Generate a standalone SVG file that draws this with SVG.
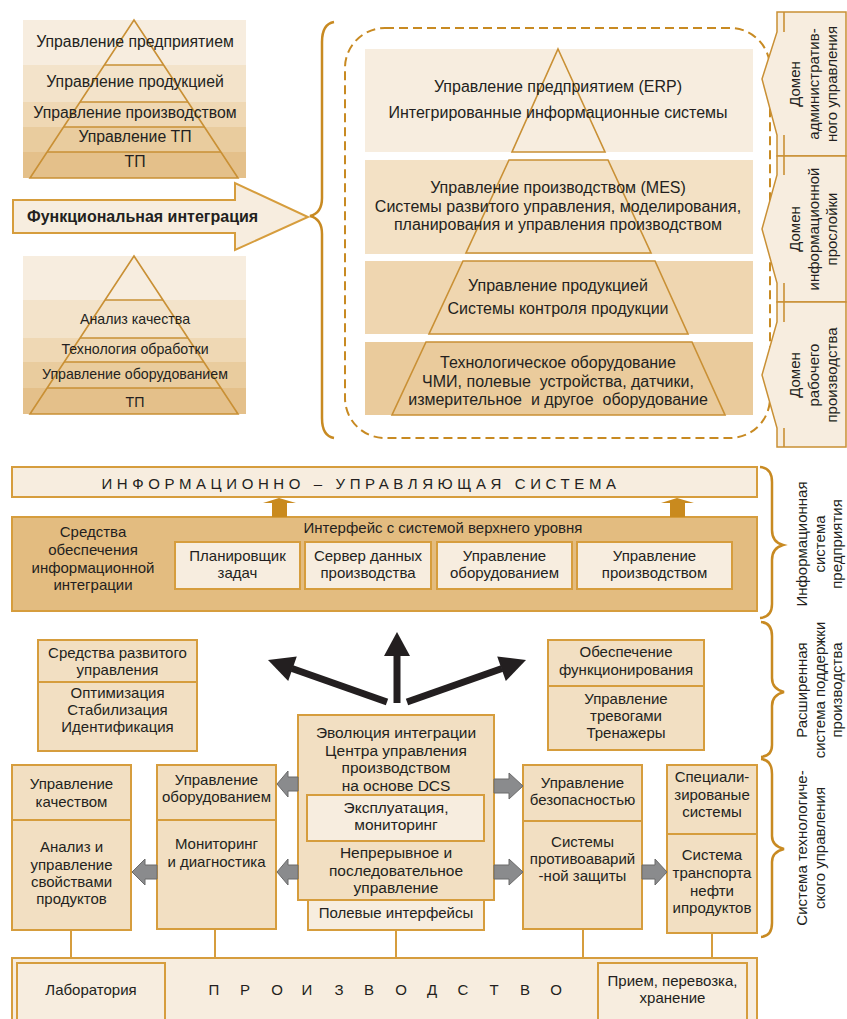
<svg xmlns="http://www.w3.org/2000/svg" width="847" height="1019" viewBox="0 0 847 1019">
<defs>
<style>
.t{font-family:"Liberation Sans",Arial,sans-serif;font-size:15px;fill:#231F20;text-anchor:middle}
.s14{font-size:14.2px}
.s16{font-size:16px}
.s158{font-size:15.8px}
.b{font-weight:bold;text-anchor:start;font-size:16px}
.box{fill:#F2DFC2;stroke:#D69D3D;stroke-width:2}
.lt{fill:#F7EDDF;stroke:#D69D3D;stroke-width:2}
.dk{fill:#E3BC80;stroke:#D69D3D;stroke-width:2}
.pl{fill:none;stroke:#C99035;stroke-width:1.6}
.br{fill:none;stroke:#C88A22;stroke-width:2.5}
.dom{fill:#F7EDDF;stroke:#C99035;stroke-width:1.5}
.ga{fill:#8A8B8D;stroke:#6A6A6A;stroke-width:1}
.vl{stroke:#D69D3D;stroke-width:2;fill:none}
.up{fill:#C98A1E}
</style>
</defs>
<rect width="847" height="1019" fill="#FFFFFF"/>

<g id="pyramid-functional">
<rect x="23" y="20" width="223" height="45" fill="#F7EDDF"/>
<rect x="23" y="65" width="223" height="37" fill="#F3E3CA"/>
<rect x="23" y="102" width="223" height="25" fill="#EFD8B4"/>
<rect x="23" y="127" width="223" height="25" fill="#E9CC9E"/>
<rect x="23" y="152" width="223" height="26" fill="#E4C08A"/>
<polygon class="pl" points="134,20 238,178 30,178"/>
<line class="pl" x1="104.4" y1="65" x2="163.6" y2="65"/>
<line class="pl" x1="80" y1="102" x2="188" y2="102"/>
<line class="pl" x1="63.6" y1="127" x2="204.4" y2="127"/>
<line class="pl" x1="47" y1="152" x2="221" y2="152"/>
<text class="t s158" x="135" y="47">Управление предприятием</text>
<text class="t s158" x="135" y="87">Управление продукцией</text>
<text class="t s158" x="135" y="118">Управление производством</text>
<text class="t s158" x="135" y="142">Управление ТП</text>
<text class="t s158" x="135" y="167">ТП</text>
</g>

<g id="arrow-functional-integration">
<polygon points="13,200 235,200 235,183 308,217 235,250 235,233 13,233" fill="#F7EDDF" stroke="#D69D3D" stroke-width="2"/>
<text class="t b" x="27" y="222">Функциональная интеграция</text>
</g>

<g id="pyramid-quality">
<rect x="23" y="256" width="223" height="44" fill="#F7EDDF"/>
<rect x="23" y="300" width="223" height="38" fill="#F3E3CA"/>
<rect x="23" y="338" width="223" height="24" fill="#EFD8B4"/>
<rect x="23" y="362" width="223" height="26" fill="#E9CC9E"/>
<rect x="23" y="388" width="223" height="26" fill="#E4C08A"/>
<polygon class="pl" points="134,256 238,414 30,414"/>
<line class="pl" x1="105" y1="300" x2="163" y2="300"/>
<line class="pl" x1="80" y1="338" x2="188" y2="338"/>
<line class="pl" x1="64" y1="362" x2="204" y2="362"/>
<line class="pl" x1="47" y1="388" x2="221" y2="388"/>
<text class="t s14" x="135" y="324">Анализ качества</text>
<text class="t s14" x="135" y="354">Технология обработки</text>
<text class="t s14" x="135" y="379">Управление оборудованием</text>
<text class="t s14" x="135" y="407">ТП</text>
</g>

<g id="brace-main">
<path class="br" d="M334,22 Q322,24 322,42 L322,198 Q322,213 310,216 Q322,219 322,234 L322,418 Q322,436 334,438" stroke-width="3"/>
</g>

<g id="domain-frame">
<rect x="345" y="28" width="425" height="410" rx="40" ry="40" fill="none" stroke="#C88A22" stroke-width="2" stroke-dasharray="9,5"/>
</g>

<g id="pyramid-levels">
<rect x="365" y="49" width="388" height="103" fill="#F7EDDF"/>
<rect x="365" y="160" width="388" height="94" fill="#F3E1C5"/>
<rect x="365" y="261" width="388" height="73" fill="#EFD6B0"/>
<rect x="365" y="342" width="388" height="73" fill="#EACB9C"/>
<polygon class="pl" points="558,49 605,152 512,152"/>
<polygon class="pl" points="509,160 608,160 651,253 466,253"/>
<polygon class="pl" points="463,261 655,261 688,334 429,334"/>
<polygon class="pl" points="426,342 692,342 725,415 392,415"/>
<text class="t s16" x="558" y="92">Управление предприятием (ERP)</text>
<text class="t s16" x="558" y="118">Интегрированные информационные системы</text>
<text class="t s16" x="558" y="193">Управление производством (MES)</text>
<text class="t s16" x="558" y="212">Системы развитого управления, моделирования,</text>
<text class="t s16" x="558" y="230">планирования и управления производством</text>
<text class="t s16" x="558" y="291">Управление продукцией</text>
<text class="t s16" x="558" y="314">Системы контроля продукции</text>
<text class="t s16" x="558" y="368">Технологическое оборудование</text>
<text class="t s16" x="558" y="387" xml:space="preserve">ЧМИ, полевые  устройства, датчики,</text>
<text class="t s16" x="558" y="405" xml:space="preserve">измерительное  и другое  оборудование</text>
</g>

<g id="domain-admin">
<polygon class="dom" points="846,12 777,12 777,32 762,79 777,135 777,156 846,156"/>
<line class="pl" x1="784" y1="12" x2="784" y2="32" stroke-width="1.5"/>
<line class="pl" x1="784" y1="135" x2="784" y2="156" stroke-width="1.5"/>
<text class="t" transform="translate(0,84) rotate(-90)"><tspan x="0" y="800">Домен</tspan><tspan x="0" y="819">административ-</tspan><tspan x="0" y="837">ного управления</tspan></text>
</g>

<g id="domain-info">
<polygon class="dom" points="846,156 777,156 777,175 762,229 777,283 777,302 846,302"/>
<line class="pl" x1="784" y1="156" x2="784" y2="175" stroke-width="1.5"/>
<line class="pl" x1="784" y1="283" x2="784" y2="302" stroke-width="1.5"/>
<text class="t" transform="translate(0,229) rotate(-90)"><tspan x="0" y="800">Домен</tspan><tspan x="0" y="819">информационной</tspan><tspan x="0" y="837">прослойки</tspan></text>
</g>

<g id="domain-work">
<polygon class="dom" points="846,302 777,302 777,322 762,375 777,428 777,447 846,447"/>
<line class="pl" x1="784" y1="302" x2="784" y2="322" stroke-width="1.5"/>
<line class="pl" x1="784" y1="428" x2="784" y2="447" stroke-width="1.5"/>
<text class="t" transform="translate(0,375) rotate(-90)"><tspan x="0" y="800">Домен</tspan><tspan x="0" y="819">рабочего</tspan><tspan x="0" y="837">производства</tspan></text>
</g>

<g id="ius">
<rect class="lt" x="12" y="467" width="745" height="30"/>
<text class="t" x="361" y="489" letter-spacing="4.6">ИНФОРМАЦИОННО – УПРАВЛЯЮЩАЯ СИСТЕМА</text>
</g>

<g id="integration-box">
<rect class="dk" x="12" y="517" width="745" height="94"/>
<text class="t"><tspan x="93" y="537">Средства</tspan><tspan x="93" y="555">обеспечения</tspan><tspan x="93" y="573">информационной</tspan><tspan x="93" y="590">интеграции</tspan></text>
<text class="t" x="443" y="533">Интерфейс с системой верхнего уровня</text>
</g>
<g id="scheduler"><rect class="lt" x="175" y="542" width="125" height="47"/><text class="t"><tspan x="237.5" y="561">Планировщик</tspan><tspan x="237.5" y="578">задач</tspan></text></g>
<g id="data-server"><rect class="lt" x="305" y="542" width="126" height="47"/><text class="t"><tspan x="368" y="561">Сервер данных</tspan><tspan x="368" y="578">производства</tspan></text></g>
<g id="equip-mgmt-top"><rect class="lt" x="437" y="542" width="135" height="47"/><text class="t"><tspan x="504.5" y="561">Управление</tspan><tspan x="504.5" y="578">оборудованием</tspan></text></g>
<g id="prod-mgmt-top"><rect class="lt" x="577" y="542" width="155" height="47"/><text class="t"><tspan x="654.5" y="561">Управление</tspan><tspan x="654.5" y="578">производством</tspan></text></g>

<g id="brace-info-system">
<path class="br" d="M760,467 Q772,468 772,482 L772,530 Q772,542 783,545 Q772,548 772,560 L772,604 Q772,617 760,618" stroke-width="2"/>
<text class="t" transform="translate(0,544) rotate(-90)"><tspan x="0" y="807">Информационная</tspan><tspan x="0" y="825">система</tspan><tspan x="0" y="842">предприятия</tspan></text>
</g>
<g id="brace-extended">
<path class="br" d="M761,622 Q772,623 772,636 L772,678 Q772,689 784,692 Q772,695 772,706 L772,745 Q772,756 761,757" stroke-width="2"/>
<text class="t" transform="translate(0,690) rotate(-90)"><tspan x="0" y="807">Расширенная</tspan><tspan x="0" y="825">система поддержки</tspan><tspan x="0" y="842">производства</tspan></text>
</g>
<g id="brace-tech">
<path class="br" d="M761,759 Q772,760 772,774 L772,836 Q772,846 784,849 Q772,852 772,862 L772,923 Q772,936 761,937" stroke-width="2"/>
<text class="t" transform="translate(0,848) rotate(-90)"><tspan x="0" y="807">Система технологиче-</tspan><tspan x="0" y="825">ского управления</tspan></text>
</g>

<g id="advanced-control">
<rect class="box" x="38" y="640" width="159" height="111"/>
<line class="vl" x1="38" y1="682" x2="197" y2="682"/>
<text class="t"><tspan x="117.5" y="658">Средства развитого</tspan><tspan x="117.5" y="675">управления</tspan><tspan x="117.5" y="698">Оптимизация</tspan><tspan x="117.5" y="715">Стабилизация</tspan><tspan x="117.5" y="732">Идентификация</tspan></text>
</g>
<g id="operation-support">
<rect class="box" x="548" y="640" width="156" height="110"/>
<line class="vl" x1="548" y1="686" x2="704" y2="686"/>
<text class="t"><tspan x="626" y="657">Обеспечение</tspan><tspan x="626" y="675">функционирования</tspan><tspan x="626" y="704">Управление</tspan><tspan x="626" y="721">тревогами</tspan><tspan x="626" y="738">Тренажеры</tspan></text>
</g>

<g id="quality-mgmt">
<rect class="box" x="12" y="765" width="119" height="165"/>
<line class="vl" x1="12" y1="820" x2="131" y2="820"/>
<text class="t"><tspan x="71.5" y="789">Управление</tspan><tspan x="71.5" y="807">качеством</tspan><tspan x="71.5" y="852">Анализ и</tspan><tspan x="71.5" y="870">управление</tspan><tspan x="71.5" y="887">свойствами</tspan><tspan x="71.5" y="904">продуктов</tspan></text>
</g>
<g id="equipment-mgmt">
<rect class="box" x="157" y="765" width="119" height="164"/>
<line class="vl" x1="157" y1="820" x2="276" y2="820"/>
<text class="t"><tspan x="216.5" y="785">Управление</tspan><tspan x="216.5" y="802">оборудованием</tspan><tspan x="216.5" y="849">Мониторинг</tspan><tspan x="216.5" y="867">и диагностика</tspan></text>
</g>
<g id="dcs-center">
<rect class="box" x="298" y="715" width="196" height="185"/>
<text class="t" style="font-size:15.5px"><tspan x="396" y="738">Эволюция интеграции</tspan><tspan x="396" y="756">Центра управления</tspan><tspan x="396" y="773">производством</tspan><tspan x="396" y="791">на основе DCS</tspan></text>
<rect class="lt" x="307" y="795" width="177" height="46"/>
<text class="t" style="font-size:15.5px"><tspan x="396" y="813">Эксплуатация,</tspan><tspan x="396" y="830">мониторинг</tspan></text>
<text class="t" style="font-size:15.5px"><tspan x="396" y="858">Непрерывное и</tspan><tspan x="396" y="876">последовательное</tspan><tspan x="396" y="893">управление</tspan></text>
</g>
<g id="field-interfaces">
<rect class="lt" x="308" y="900" width="176" height="30"/>
<text class="t" x="396" y="918">Полевые интерфейсы</text>
</g>
<g id="safety-mgmt">
<rect class="box" x="523" y="765" width="119" height="164"/>
<line class="vl" x1="523" y1="821" x2="642" y2="821"/>
<text class="t"><tspan x="582.5" y="788">Управление</tspan><tspan x="582.5" y="805">безопасностью</tspan><tspan x="582.5" y="847">Системы</tspan><tspan x="582.5" y="864">противоаварий</tspan><tspan x="582.5" y="881">-ной защиты</tspan></text>
</g>
<g id="special-systems">
<rect class="box" x="667" y="765" width="90" height="168"/>
<line class="vl" x1="667" y1="834" x2="757" y2="834"/>
<text class="t"><tspan x="712" y="782">Специали-</tspan><tspan x="712" y="800">зированые</tspan><tspan x="712" y="817">системы</tspan><tspan x="712" y="860">Система</tspan><tspan x="712" y="878">транспорта</tspan><tspan x="712" y="896">нефти</tspan><tspan x="712" y="913">ипродуктов</tspan></text>
</g>

<g id="production">
<rect class="lt" x="12" y="958" width="745" height="70"/>
<rect class="lt" x="17" y="963" width="148" height="62"/>
<text class="t" x="91" y="995">Лаборатория</text>
<text class="t" x="214 245 277 307 339 369 401 432 463 494 525 556" y="995">ПРОИЗВОДСТВО</text>
<rect class="lt" x="598" y="963" width="149" height="62"/>
<text class="t"><tspan x="672.5" y="986">Прием, перевозка,</tspan><tspan x="672.5" y="1003">хранение</tspan></text>
</g>

<g id="connectors">
<polygon class="up" points="279,498 296,503 287,503 287,517 272,517 272,503 263,503"/>
<polygon class="up" points="677,498 694,503 685,503 685,517 670,517 670,503 661,503"/>
<line x1="387" y1="702" x2="292" y2="668.5" stroke="#231F20" stroke-width="7"/>
<polygon points="268,660 296.8,656.4 288.2,681" fill="#231F20"/>
<line x1="397" y1="703" x2="397" y2="652" stroke="#231F20" stroke-width="7"/>
<polygon points="397,632 410,656 384,656" fill="#231F20"/>
<line x1="407" y1="702" x2="502" y2="668.5" stroke="#231F20" stroke-width="7"/>
<polygon points="526,660 505.8,681 497.2,656.4" fill="#231F20"/>
<polygon class="ga" points="277,784 288,771 288,777 298,777 298,791 288,791 288,797"/>
<polygon class="ga" points="277,872 288,859 288,865 298,865 298,879 288,879 288,885"/>
<polygon class="ga" points="132,872 145,859 145,865 157,865 157,879 145,879 145,885"/>
<polygon class="ga" points="523,786 509,773 509,779 494,779 494,793 509,793 509,799"/>
<polygon class="ga" points="523,872 509,859 509,865 494,865 494,879 509,879 509,885"/>
<polygon class="ga" points="667,872 655,859 655,865 642,865 642,879 655,879 655,885"/>
<line class="vl" x1="71" y1="930" x2="71" y2="958"/>
<line class="vl" x1="215" y1="929" x2="215" y2="958"/>
<line class="vl" x1="396" y1="930" x2="396" y2="958"/>
<line class="vl" x1="583" y1="929" x2="583" y2="958"/>
<line class="vl" x1="712" y1="933" x2="712" y2="958"/>
</g>
</svg>
